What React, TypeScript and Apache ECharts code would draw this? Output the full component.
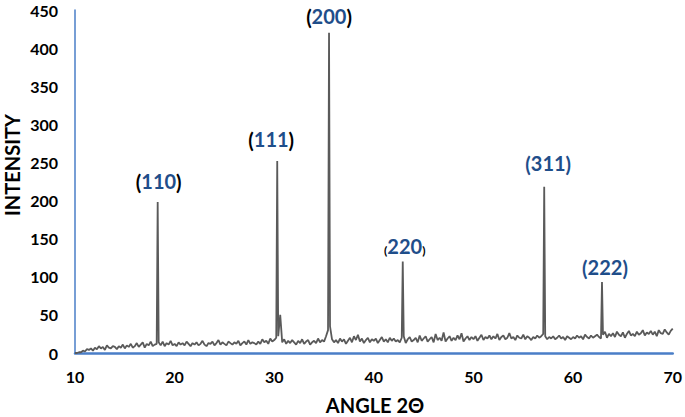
import React, { useEffect, useRef } from "react";
import * as echarts from "echarts";

// Scan grid: 10.0° to 70.0° in steps of 0.2°
const scanStart = 10;
const scanStep = 0.2;
const baselineIntensity = [
  0, 0, 1, 1, 3, 2, 5, 4, 6, 3,
  7, 5, 9, 6, 8, 4, 10, 7, 6, 9,
  8, 5, 9, 7, 11, 6, 10, 8, 12, 7,
  9, 13, 8, 11, 14, 7, 12, 10, 15, 9,
  11, 12, 14, 10, 15, 9, 13, 11, 16, 10,
  12, 9, 14, 11, 13, 10, 15, 12, 9, 13,
  11, 14, 10, 12, 16, 11, 9, 13, 12, 15,
  10, 13, 17, 11, 14, 12, 10, 15, 13, 11,
  14, 12, 16, 10, 13, 15, 11, 17, 12, 14,
  13, 11, 15, 12, 18, 14, 16, 12, 19, 15,
  17, 20, 22, 50, 14, 18, 12, 16, 13, 17,
  14, 11, 16, 13, 18, 12, 15, 17, 11, 14,
  16, 13, 19, 14, 17, 15, 22, 30, 35, 18,
  14, 17, 13, 19, 15, 18, 12, 16, 20, 14,
  22, 17, 24, 15, 19, 13, 17, 20, 14, 18,
  16, 19, 13, 17, 21, 15, 18, 14, 20, 16,
  19, 15, 17, 14, 20, 22, 13, 18, 21, 15,
  17, 20, 14, 23, 16, 19, 22, 15, 18, 21,
  14, 25, 17, 20, 16, 27, 15, 19, 22, 16,
  20, 17, 23, 18, 26, 15, 19, 22, 17, 21,
  18, 22, 16, 20, 24, 17, 21, 19, 23, 18,
  22, 19, 25, 17, 21, 23, 18, 20, 26, 19,
  21, 17, 23, 20, 19, 24, 18, 22, 20, 17,
  21, 19, 23, 20, 22, 25, 22, 18, 21, 19,
  22, 18, 20, 23, 19, 21, 17, 22, 20, 18,
  21, 19, 23, 20, 22, 18, 24, 21, 19, 23,
  20, 22, 24, 21, 19, 24, 28, 20, 25, 22,
  26, 21, 28, 24, 22, 27, 20, 25, 29, 23,
  25, 22, 28, 24, 26, 30, 23, 27, 25, 29,
  24, 28, 22, 30, 26, 25, 31, 27, 24, 29,
  32,
];

// Diffraction peaks
const peakAngles = [18.3, 30.3, 35.5, 42.9, 57.1, 62.9];
const peakIntensity = [198, 252, 420, 120, 218, 93];
const peakLabels = ["110", "111", "200", "220", "311", "222"];

// label styling per peak (style only)
const labelStyle = [
  { parens: "p", dx: 1, dist: 7 },
  { parens: "p", dx: -6, dist: 8 },
  { parens: "p", dx: 0, dist: 3 },
  { parens: "ps", dx: 2, dist: 2 },
  { parens: "pb", dx: 4, dist: 10 },
  { parens: "pb", dx: 3, dist: 1 },
];

const xTicks = { min: 10, max: 70, interval: 10 };
const yTicks = { min: 0, max: 450, interval: 50 };

function buildPattern(): [number, number][] {
  const pts: [number, number][] = baselineIntensity.map((v, i) => [
    Math.round((scanStart + i * scanStep) * 10) / 10,
    v,
  ]);
  peakAngles.forEach((a, i) => pts.push([a, peakIntensity[i]]));
  pts.sort((p, q) => p[0] - q[0]);
  return pts;
}

export default function App() {
  const ref = useRef<HTMLDivElement>(null);
  useEffect(() => {
    document.body.style.margin = "0";
    if (!ref.current) return;
    const chart = echarts.init(ref.current, null, { renderer: "svg" });
    const font = "Lato, 'Open Sans', sans-serif";
    const blue = "#1F4E8A";
    const titles = [
      {
        type: "text",
        id: "ytitle",
        x: 12,
        y: 165,
        rotation: Math.PI / 2,
        style: {
          text: "INTENSITY",
          fill: "#000",
          font: `bold 20px ${font}`,
          textAlign: "center",
          textVerticalAlign: "middle",
        },
      },
      {
        type: "text",
        id: "xtitle",
        x: 375,
        y: 405,
        style: {
          text: "ANGLE 2Θ",
          fill: "#000",
          font: `bold 20px ${font}`,
          textAlign: "center",
          textVerticalAlign: "middle",
        },
      },
    ];
    chart.setOption({
      animation: false,
      backgroundColor: "#ffffff",
      grid: { left: 75, right: 10, top: 10, bottom: 64, containLabel: false },
      xAxis: {
        type: "value",
        min: xTicks.min,
        max: xTicks.max,
        interval: xTicks.interval,
        axisLine: { show: true, lineStyle: { color: "#4A7EC7", width: 2.5 } },
        axisTick: { show: false },
        splitLine: { show: false },
        axisLabel: {
          color: "#000",
          fontFamily: font,
          fontWeight: "bold",
          fontSize: 16,
          margin: 15,
        },
      },
      yAxis: {
        type: "value",
        min: yTicks.min,
        max: yTicks.max,
        interval: yTicks.interval,
        axisLine: { show: true, lineStyle: { color: "#4A7EC7", width: 1.5 } },
        axisTick: { show: false },
        splitLine: { show: false },
        axisLabel: {
          color: "#000",
          fontFamily: font,
          fontWeight: "bold",
          fontSize: 16,
          margin: 17,
        },
      },
      graphic: titles,
      series: [
        {
          type: "line",
          data: buildPattern(),
          showSymbol: false,
          symbol: "none",
          lineStyle: { color: "#5A5A5A", width: 1.8 },
          z: 2,
        },
      ],
    });
    const labels = peakAngles.map((a, i) => {
      const s = labelStyle[i];
      const [px, py] = chart.convertToPixel({ gridIndex: 0 }, [a, peakIntensity[i]]);
      const pcolor = s.parens === "pb" ? blue : "#000";
      const small = s.parens === "ps";
      return {
        type: "group",
        id: "lbl" + i,
        x: px + s.dx,
        y: py - s.dist - 3,
        children: [
          {
            type: "text",
            x: 0,
            y: 0,
            style: {
              rich: {
                p: {
                  fill: pcolor,
                  font: `bold ${small ? 12 : 20}px ${font}`,
                  lineHeight: 22,
                  verticalAlign: "bottom",
                  padding: small ? [7, 0, 0, 0] : 0,
                },
                n: { fill: blue, font: `bold 20px ${font}`, lineHeight: 22 },
              },
              text: `{p|(}{n|${peakLabels[i]}}{p|)}`,
              textAlign: "center",
              textVerticalAlign: "bottom",
            },
          },
        ],
      };
    });
    chart.setOption({ graphic: [...titles, ...labels] });
    return () => chart.dispose();
  }, []);
  return <div ref={ref} style={{ width: 685, height: 417 }} />;
}
